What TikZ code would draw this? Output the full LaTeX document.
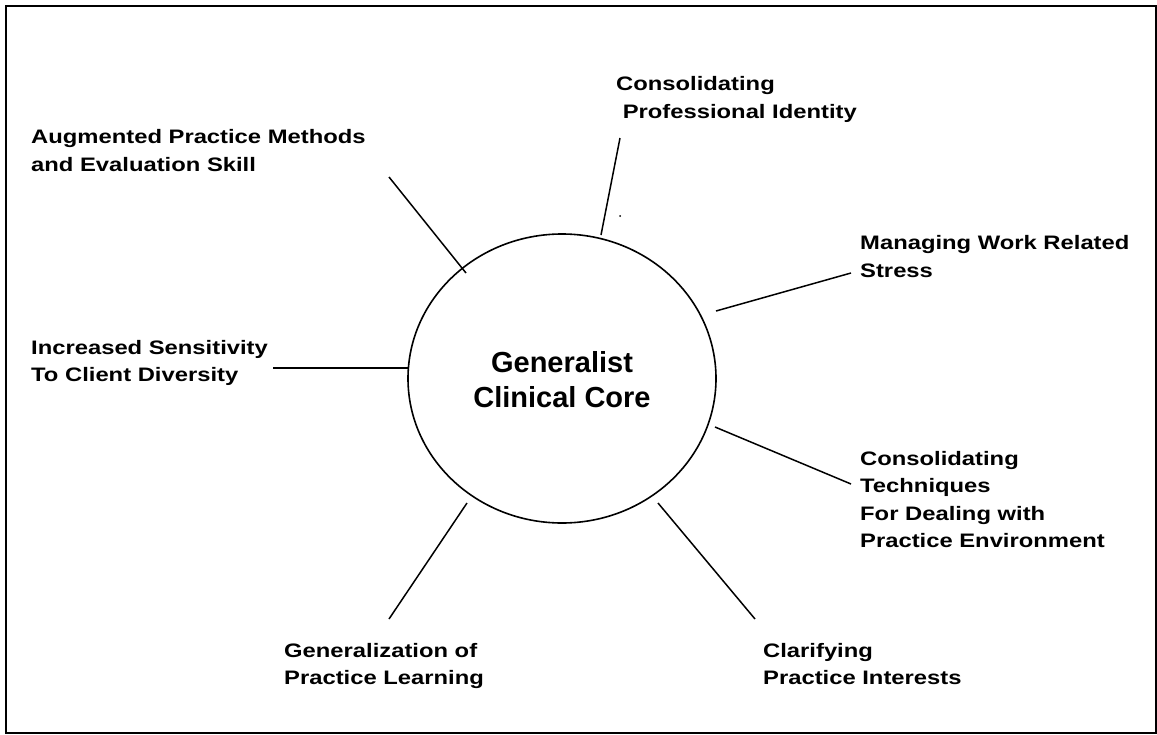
\documentclass[tikz,border=0pt]{standalone}
\usepackage{fontspec}
\newfontfamily\labfont{Liberation Sans}[FakeStretch=1.22]
\newfontfamily\corefont{Liberation Sans}
\usetikzlibrary{shapes.geometric}
\begin{document}
\begin{tikzpicture}[x=1pt,y=-1pt,
  lab/.style={anchor=base west,inner sep=0pt,align=left,
    font=\labfont\bfseries\fontsize{19.5}{27.5}\selectfont},
  spoke/.style={line width=1.5pt},
  corenode/.style={ellipse,draw,line width=1.6pt,minimum width=308pt,minimum height=289pt,
    inner sep=0pt,align=center,font=\corefont\bfseries\fontsize{29}{34.6}\selectfont}]
\useasboundingbox (0,0) rectangle (1157,734);
\draw[line width=2pt] (5.5,5.5) rectangle (1155.5,732.5);

\node[corenode] (core) at (562,378.5) {};
\node[anchor=base,inner sep=0pt,align=center,font=\corefont\bfseries\fontsize{29}{34.6}\selectfont] (coretext) at (562,407.3) {Generalist\\Clinical Core};

% anchor = baseline of the last line
\node[lab] (aug) at (31,171) {Augmented Practice Methods\\and Evaluation Skill};
\node[lab] (cpi) at (616,118.3) {Consolidating\\ \ Professional Identity};
\node[lab] (mws) at (860,277) {Managing Work Related\\Stress};
\node[lab] (isc) at (31,381.5) {Increased Sensitivity\\To Client Diversity};
\node[lab] (ctd) at (860,547.5) {Consolidating\\Techniques\\For Dealing with\\Practice Environment};
\node[lab] (cla) at (763,684.5) {Clarifying\\Practice Interests};
\node[lab] (gen) at (284,684.5) {Generalization of\\Practice Learning};

\coordinate (a1) at (389,177); \coordinate (a2) at (466,273);
\coordinate (b1) at (620,138); \coordinate (b2) at (601,235);
\coordinate (c1) at (851,273); \coordinate (c2) at (716,311);
\coordinate (d1) at (273,368); \coordinate (d2) at (409,368);
\coordinate (e1) at (851,484); \coordinate (e2) at (715,427);
\coordinate (f1) at (755,619); \coordinate (f2) at (658,503);
\coordinate (g1) at (389,619); \coordinate (g2) at (467,503);
\coordinate (dot) at (620,216);

\draw[spoke] (a1) -- (a2);
\draw[spoke] (b1) -- (b2);
\draw[spoke] (c1) -- (c2);
\draw[spoke] (d1) -- (d2);
\draw[spoke] (e1) -- (e2);
\draw[spoke] (f1) -- (f2);
\draw[spoke] (g1) -- (g2);
\fill (dot) circle (1pt);
\end{tikzpicture}
\end{document}
